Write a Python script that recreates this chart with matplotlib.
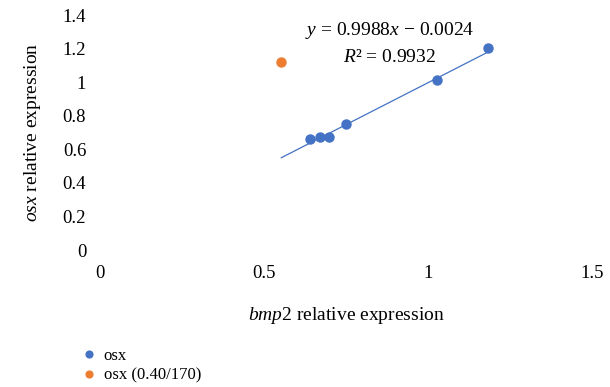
import matplotlib
matplotlib.use('Agg')
import matplotlib.pyplot as plt
import numpy as np

plt.rcParams['font.family'] = ['Liberation Serif', 'DejaVu Serif']
plt.rcParams['mathtext.fontset'] = 'custom'
plt.rcParams['mathtext.rm'] = 'Liberation Serif'
plt.rcParams['mathtext.it'] = 'Liberation Serif:italic'

# 数据
bmp2 = [0.640, 0.671, 0.699, 0.750, 1.027, 1.183]
osx = [0.659, 0.671, 0.671, 0.750, 1.012, 1.202]
bmp2_out = [0.552]
osx_out = [1.121]
slope, intercept = 0.9988, -0.0024
line_x = [0.553, 1.183]
x_ticks = [0, 0.5, 1, 1.5]
y_ticks = [0, 0.2, 0.4, 0.6, 0.8, 1, 1.2, 1.4]

fig = plt.figure(figsize=(6.1, 3.87), dpi=100)
ax = fig.add_axes([0.164, 0.354, 0.806, 0.607])

blue = '#4472C4'
orange = '#ED7D31'

ax.plot(bmp2, osx, 'o', color=blue, markersize=6.5, label='osx', zorder=3)
ax.plot(bmp2_out, osx_out, 'o', color=orange, markersize=6.5, label='osx (0.40/170)', zorder=3)
lx = np.array(line_x)
ax.plot(lx, slope * lx + intercept, '-', color=blue, linewidth=0.9, zorder=2)

ax.text(0.885, 1.31, '$y$ = 0.9988$x$ \u2212 0.0024', ha='center', va='center', fontsize=14)
ax.text(0.885, 1.15, '$R$\u00b2 = 0.9932', ha='center', va='center', fontsize=14)

ax.set_xlim(0, 1.5)
ax.set_ylim(0, 1.4)
ax.set_xticks(x_ticks)
ax.set_xticklabels(['0', '0.5', '1', '1.5'])
ax.set_yticks(y_ticks)
ax.set_yticklabels(['0', '0.2', '0.4', '0.6', '0.8', '1', '1.2', '1.4'])
ax.tick_params(length=0, labelsize=13.5)
ax.tick_params(axis='y', pad=10)
ax.tick_params(axis='x', pad=11)
for s in ax.spines.values():
    s.set_visible(False)

ax.set_xlabel('$bmp$2 relative expression', fontsize=14, labelpad=16)
ax.set_ylabel('$osx$ relative expression', fontsize=14, labelpad=14)

fig.legend(loc='upper left', bbox_to_anchor=(0.118, 0.122), frameon=False,
           fontsize=12, handletextpad=0.3, markerscale=0.75, labelspacing=0.2,
           borderpad=0, handlelength=1.1)

fig.savefig('out.png', dpi=100)
